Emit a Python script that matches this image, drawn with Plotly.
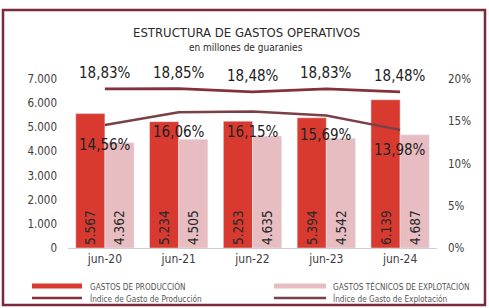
import plotly.graph_objects as go

categories = ["jun-20", "jun-21", "jun-22", "jun-23", "jun-24"]
gastos_produccion = [5567, 5234, 5253, 5394, 6139]
gastos_explotacion = [4362, 4505, 4635, 4542, 4687]
indice_produccion = [18.83, 18.85, 18.48, 18.83, 18.48]
indice_explotacion = [14.56, 16.06, 16.15, 15.69, 13.98]
left_ticks = [0, 1000, 2000, 3000, 4000, 5000, 6000, 7000]
right_ticks = [0, 5, 10, 15, 20]
series_names = ["GASTOS DE PRODUCCIÓN", "GASTOS TÉCNICOS DE EXPLOTACIÓN",
                "Índice de Gasto de Producción", "Índice de Gasto de Explotación"]

def fmt_int(v):
    return f"{v:,}".replace(",", ".")

def fmt_pct(v):
    return f"{v:.2f}".replace(".", ",") + "%"

FONT = "DejaVu Sans Condensed, Liberation Sans, sans-serif"
C_PROD = "#d83a30"
C_EXPL = "#e8bdc1"
C_LPROD = "#86303a"
C_LEXPL = "#7a4048"

W, H = 489, 308
ml, mr, mt, mb = 68, 52, 79, 60
pw, ph = W - ml - mr, H - mt - mb

def px_x(x):
    return (x - ml) / pw

def px_y(y):
    return (H - mb - y) / ph

fig = go.Figure()
fig.add_trace(go.Bar(
    x=categories, y=gastos_produccion, name=series_names[0],
    marker_color=C_PROD,
    text=[fmt_int(v) for v in gastos_produccion], textposition="inside",
    insidetextanchor="start", textangle=-90,
    textfont=dict(family=FONT, size=13.5, color="#2a2a2a"),
))
fig.add_trace(go.Bar(
    x=categories, y=gastos_explotacion, name=series_names[1],
    marker_color=C_EXPL,
    text=[fmt_int(v) for v in gastos_explotacion], textposition="inside",
    insidetextanchor="start", textangle=-90,
    textfont=dict(family=FONT, size=13.5, color="#2a2a2a"),
))
fig.add_trace(go.Scatter(
    x=categories, y=indice_produccion, name=series_names[2],
    yaxis="y2", mode="lines", line=dict(color=C_LPROD, width=2.8),
))
fig.add_trace(go.Scatter(
    x=categories, y=indice_explotacion, name=series_names[3],
    yaxis="y2", mode="lines", line=dict(color=C_LEXPL, width=2.5),
))

annotations = [
    dict(text="ESTRUCTURA DE GASTOS OPERATIVOS", xref="paper", yref="paper",
         x=px_x(246), y=px_y(33), xanchor="center", yanchor="middle",
         showarrow=False, font=dict(family=FONT, size=13, color="#2a2a2a")),
    dict(text="en millones de guaranies", xref="paper", yref="paper",
         x=px_x(246), y=px_y(48), xanchor="center", yanchor="middle",
         showarrow=False, font=dict(family=FONT, size=10, color="#2a2a2a")),
]
for c, v in zip(categories, indice_produccion):
    annotations.append(dict(text=fmt_pct(v), x=c, y=v, xref="x", yref="y2",
                            yshift=16, showarrow=False, xanchor="center", yanchor="middle",
                            font=dict(family=FONT, size=15, color="#222222")))
for c, v in zip(categories, indice_explotacion):
    annotations.append(dict(text=fmt_pct(v), x=c, y=v, xref="x", yref="y2",
                            yshift=-20, showarrow=False, xanchor="center", yanchor="middle",
                            font=dict(family=FONT, size=15, color="#222222")))

# manual legend
legend_items = [
    (series_names[0], "rect", C_PROD, 32, 82, 88, 286),
    (series_names[1], "rect", C_EXPL, 274, 326, 331, 286),
    (series_names[2], "line", C_LPROD, 32, 82, 88, 298),
    (series_names[3], "line", C_LEXPL, 274, 326, 331, 298),
]
shapes = [
    dict(type="rect", xref="paper", yref="paper",
         x0=px_x(3), x1=px_x(485), y0=px_y(305), y1=px_y(10),
         line=dict(color="#7a2a3a", width=2.5), fillcolor="rgba(0,0,0,0)",
         layer="below"),
]
for name, kind, col, sx0, sx1, tx, yy in legend_items:
    if kind == "rect":
        shapes.append(dict(type="rect", xref="paper", yref="paper",
                           x0=px_x(sx0), x1=px_x(sx1), y0=px_y(yy + 2.5), y1=px_y(yy - 2.5),
                           line=dict(width=0), fillcolor=col))
    else:
        shapes.append(dict(type="line", xref="paper", yref="paper",
                           x0=px_x(sx0), x1=px_x(sx1), y0=px_y(yy), y1=px_y(yy),
                           line=dict(color=col, width=2.5)))
    annotations.append(dict(text=name, xref="paper", yref="paper",
                            x=px_x(tx), y=px_y(yy), xanchor="left", yanchor="middle",
                            showarrow=False,
                            font=dict(family=FONT, size=8.2, color="#555555")))

fig.update_layout(
    width=W, height=H,
    margin=dict(l=ml, r=mr, t=mt, b=mb, autoexpand=False),
    paper_bgcolor="white", plot_bgcolor="white",
    barmode="group", bargap=0.21, bargroupgap=0.0,
    font=dict(family=FONT, color="#404040", size=11),
    showlegend=False,
    xaxis=dict(
        showline=True, linecolor="#cfcfcf", linewidth=1, ticks="",
        tickfont=dict(family=FONT, size=12, color="#404040"),
        showgrid=False,
    ),
    yaxis=dict(
        range=[0, 7000], tickvals=left_ticks,
        ticktext=[fmt_int(v) for v in left_ticks],
        showgrid=False, zeroline=False, showline=False,
        tickfont=dict(family=FONT, size=11.5, color="#404040"),
        ticklabelstandoff=10,
    ),
    yaxis2=dict(
        overlaying="y", side="right", range=[0, 20],
        tickvals=right_ticks, ticktext=[f"{v}%" for v in right_ticks],
        showgrid=False, zeroline=False, showline=False,
        tickfont=dict(family=FONT, size=11.5, color="#404040"),
        ticklabelstandoff=10,
    ),
    annotations=annotations,
    shapes=shapes,
)

fig.write_html("out.html", config={"displayModeBar": False},
               post_script="document.body.style.margin='0';document.body.style.overflow='hidden';")
